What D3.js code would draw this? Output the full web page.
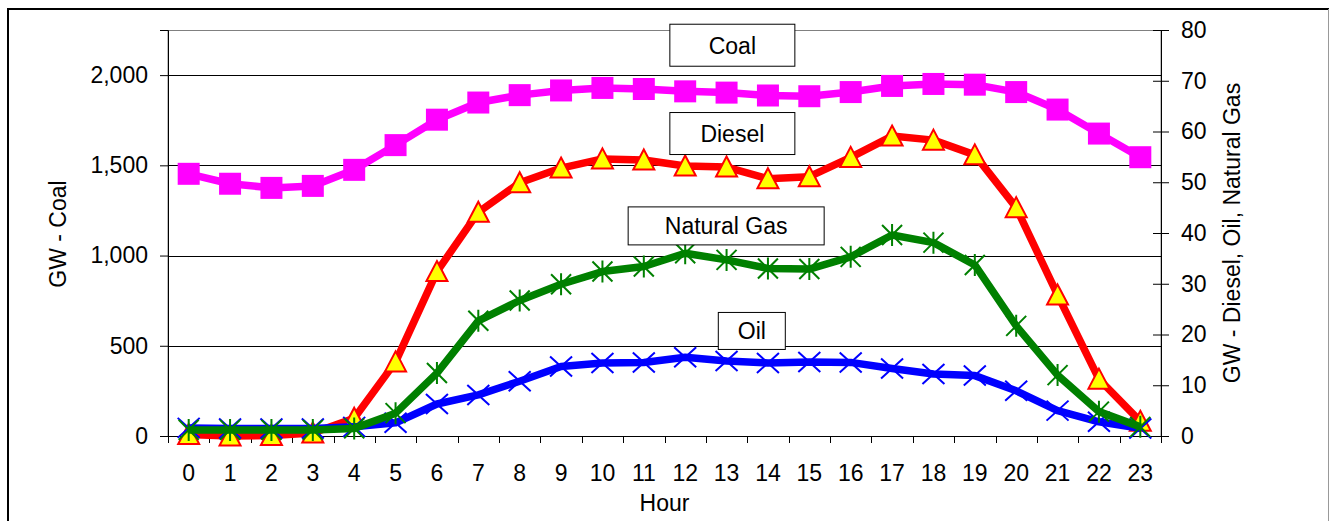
<!DOCTYPE html>
<html>
<head>
<meta charset="utf-8">
<script src="https://cdn.jsdelivr.net/npm/d3@7"></script>
<style>
  html, body { margin: 0; padding: 0; background: #fff; }
  svg { display: block; font-family: "Liberation Sans", Arial, sans-serif; }
</style>
</head>
<body>
<svg id="chart" width="1330" height="521"></svg>
<script>
// ---- data ----
const hours = [0,1,2,3,4,5,6,7,8,9,10,11,12,13,14,15,16,17,18,19,20,21,22,23];
const coal = [1453,1398,1375,1386,1475,1612,1753,1848,1889,1915,1929,1923,1910,1903,1887,1883,1906,1940,1951,1947,1906,1809,1676,1545];
const diesel = [0.3,0.0,0.1,0.6,3.5,14.6,32.4,44.1,49.9,52.8,54.6,54.4,53.2,53.0,50.7,51.1,54.9,59.1,58.3,55.4,45.0,27.8,11.2,2.9];
const naturalGas = [1.2,1.2,1.2,1.2,1.5,4.5,12.4,22.7,26.7,29.9,32.4,33.4,36.0,34.7,33.0,32.9,35.3,39.6,38.1,33.7,21.7,12.0,4.8,1.8];
const oil = [1.6,1.5,1.5,1.5,1.8,2.6,6.3,8.1,10.8,13.7,14.4,14.5,15.5,14.8,14.4,14.6,14.5,13.3,12.2,11.9,8.9,5.0,2.8,1.5];
const leftTicks = [0,500,1000,1500,2000];
const rightTicks = [0,10,20,30,40,50,60,70,80];
const leftLabel = "GW - Coal";
const rightLabel = "GW - Diesel, Oil, Natural Gas";
const xLabel = "Hour";
// annotation boxes: text, hour position of centre, right-axis value of centre
const boxNames = ["Coal","Diesel","Natural Gas","Oil"];
const boxHour = [13.14,13.14,12.99,13.61];
const boxVal = [77.0,59.6,41.4,20.7];

// ---- layout ----
const svg = d3.select("#chart");
const L = 168, R = 1161, T = 30, B = 436;
const FS = 23;
const boxW = [125,125,196,67];
const boxH = [42,42,38,37];

const x = d3.scaleBand().domain(hours).range([L, R]).padding(0);
const xc = h => x(h) + x.bandwidth() / 2;
const xh = v => L + (v + 0.5) * x.bandwidth();
const yL = d3.scaleLinear().domain([0, 2250]).range([B, T]);
const yR = d3.scaleLinear().domain([0, 80]).range([B, T]);

// outer border
svg.append("line").attr("x1", 7).attr("x2", 1329).attr("y1", 9).attr("y2", 9).attr("stroke", "#000").attr("stroke-width", 2);
svg.append("line").attr("x1", 8).attr("x2", 8).attr("y1", 8).attr("y2", 521).attr("stroke", "#000").attr("stroke-width", 2);
svg.append("line").attr("x1", 1328.5).attr("x2", 1328.5).attr("y1", 9).attr("y2", 521).attr("stroke", "#999").attr("stroke-width", 1);

// plot area border
svg.append("rect").attr("x", L).attr("y", T + 0.5).attr("width", R - L).attr("height", B - T)
  .attr("fill", "none").attr("stroke", "#808080").attr("stroke-width", 1);

// gridlines
svg.append("g").selectAll("line").data(leftTicks.filter(d => d > 0)).join("line")
  .attr("x1", L).attr("x2", R)
  .attr("y1", d => Math.round(yL(d)) + 0.5).attr("y2", d => Math.round(yL(d)) + 0.5)
  .attr("stroke", "#000").attr("stroke-width", 1);

// left axis
const gL = svg.append("g").attr("transform", `translate(${L},0)`)
  .call(d3.axisLeft(yL).tickValues(leftTicks).tickFormat(d3.format(",")).tickSize(8).tickPadding(12));
gL.selectAll("text").attr("font-size", FS).attr("font-family", "Liberation Sans, Arial, sans-serif").attr("fill", "#000");
gL.select(".domain").attr("stroke", "#000");

// right axis
const gR = svg.append("g").attr("transform", `translate(${R},0)`)
  .call(d3.axisRight(yR).tickValues(rightTicks).tickSize(8).tickPadding(12));
gR.selectAll(".tick line").attr("x1", -8);
gR.selectAll("text").attr("font-size", FS).attr("font-family", "Liberation Sans, Arial, sans-serif").attr("fill", "#000");
gR.select(".domain").attr("stroke", "#000");

// bottom axis
const gB = svg.append("g").attr("transform", `translate(0,${B})`)
  .call(d3.axisBottom(x).tickSize(0).tickPadding(29));
gB.select(".domain").attr("stroke", "#000").attr("d", `M${L},0.5H${R}`);
gB.selectAll("text").attr("font-size", FS).attr("font-family", "Liberation Sans, Arial, sans-serif").attr("fill", "#000");
svg.append("g").selectAll("line").data(hours.concat([24])).join("line")
  .attr("x1", d => Math.round(d < 24 ? x(d) : R) + 0.5).attr("x2", d => Math.round(d < 24 ? x(d) : R) + 0.5)
  .attr("y1", B).attr("y2", B + 7).attr("stroke", "#000");

// axis titles
svg.append("text").attr("transform", `translate(66,${(T + B) / 2 + 1}) rotate(-90)`)
  .attr("text-anchor", "middle").attr("font-size", FS).text(leftLabel);
svg.append("text").attr("transform", `translate(1240,${(T + B) / 2}) rotate(-90)`)
  .attr("text-anchor", "middle").attr("font-size", FS).text(rightLabel);
svg.append("text").attr("x", (L + R) / 2).attr("y", 511).attr("text-anchor", "middle")
  .attr("font-size", FS).text(xLabel);

// series
const lineL = d3.line().x((d, i) => xc(hours[i])).y(d => yL(d));
const lineR = d3.line().x((d, i) => xc(hours[i])).y(d => yR(d));
const LW = 7.5;

// coal
svg.append("path").attr("d", lineL(coal)).attr("fill", "none").attr("stroke", "#FF00FF").attr("stroke-width", LW).attr("stroke-linejoin", "round");
svg.append("g").selectAll("rect").data(coal).join("rect")
  .attr("x", (d, i) => xc(hours[i]) - 11).attr("y", d => yL(d) - 11)
  .attr("width", 22).attr("height", 22).attr("fill", "#FF00FF");

// diesel
svg.append("path").attr("d", lineR(diesel)).attr("fill", "none").attr("stroke", "#FF0000").attr("stroke-width", LW).attr("stroke-linejoin", "round");
svg.append("g").selectAll("path").data(diesel).join("path")
  .attr("d", (d, i) => { const cx = xc(hours[i]), cy = yR(d); return `M${cx},${cy - 10.5}L${cx + 10.5},${cy + 9.5}L${cx - 10.5},${cy + 9.5}Z`; })
  .attr("fill", "#FFFF00").attr("stroke", "#FF0000").attr("stroke-width", 2).attr("stroke-linejoin", "miter");

// oil
svg.append("path").attr("d", lineR(oil)).attr("fill", "none").attr("stroke", "#0000FF").attr("stroke-width", LW).attr("stroke-linejoin", "round");
svg.append("g").selectAll("path").data(oil).join("path")
  .attr("d", (d, i) => { const cx = xc(hours[i]), cy = yR(d); return `M${cx - 11},${cy - 10}L${cx + 11},${cy + 10}M${cx + 11},${cy - 10}L${cx - 11},${cy + 10}`; })
  .attr("fill", "none").attr("stroke", "#0000FF").attr("stroke-width", 2);

// natural gas
svg.append("path").attr("d", lineR(naturalGas)).attr("fill", "none").attr("stroke", "#008000").attr("stroke-width", LW).attr("stroke-linejoin", "round");
svg.append("g").selectAll("path").data(naturalGas).join("path")
  .attr("d", (d, i) => { const cx = xc(hours[i]), cy = yR(d); return `M${cx - 10},${cy - 10}L${cx + 10},${cy + 10}M${cx + 10},${cy - 10}L${cx - 10},${cy + 10}M${cx},${cy - 11}L${cx},${cy + 11}`; })
  .attr("fill", "none").attr("stroke", "#008000").attr("stroke-width", 2);

// annotation boxes
const boxes = svg.append("g").selectAll("g").data(boxNames).join("g")
  .attr("transform", (d, i) => `translate(${xh(boxHour[i])},${yR(boxVal[i])})`);
boxes.append("rect").attr("x", (d, i) => -boxW[i] / 2).attr("y", (d, i) => -boxH[i] / 2)
  .attr("width", (d, i) => boxW[i]).attr("height", (d, i) => boxH[i])
  .attr("fill", "#fff").attr("stroke", "#000").attr("stroke-width", 1);
boxes.append("text").attr("text-anchor", "middle").attr("y", 8.5).attr("font-size", FS).text(d => d);
</script>
</body>
</html>
